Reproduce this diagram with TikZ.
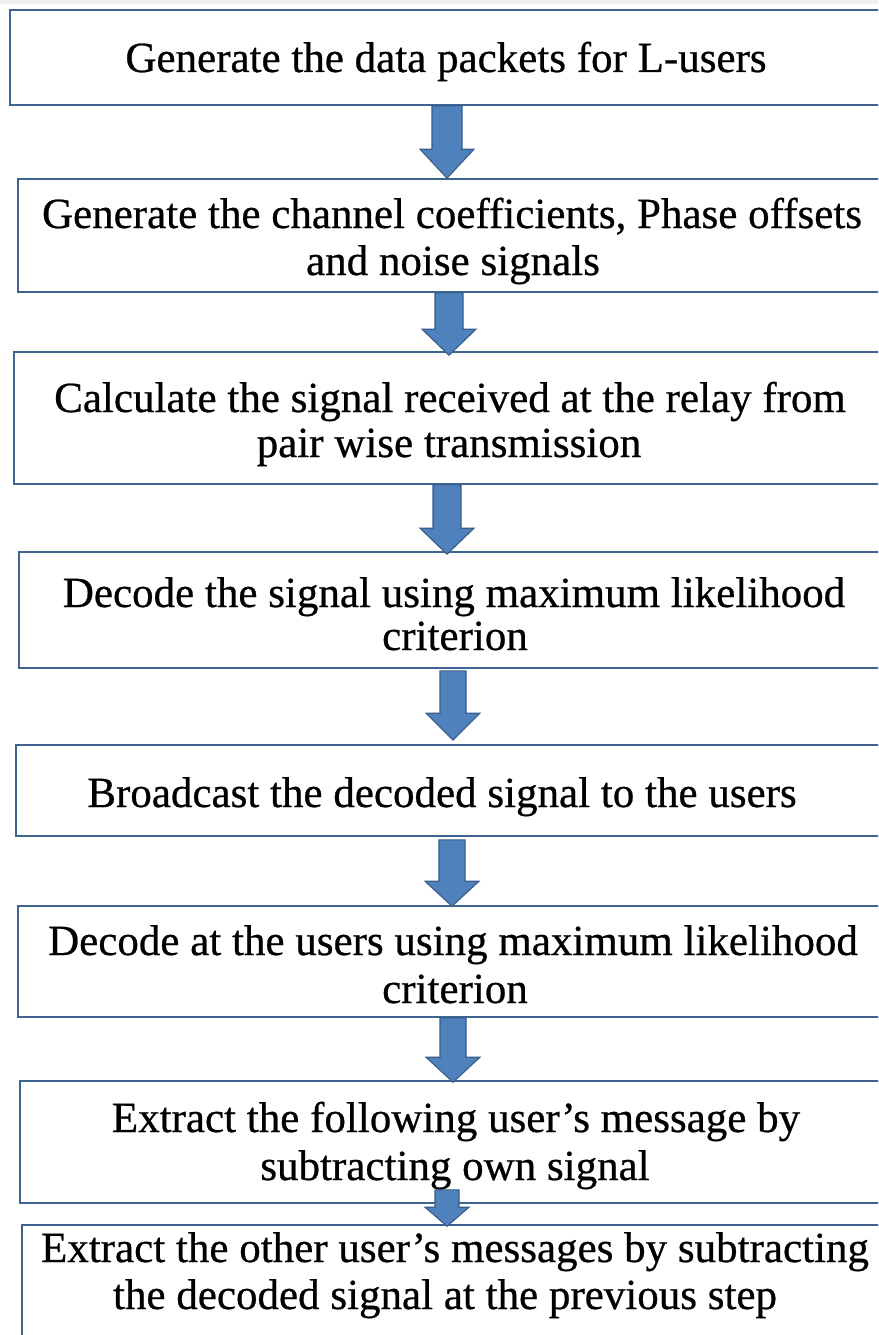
\documentclass[tikz,border=0pt]{standalone}
\usepackage{fontspec}
\setmainfont{Liberation Serif}
\newfontfamily\flowfont{Liberation Serif}[FakeBold=0.6]
\usetikzlibrary{calc}
\definecolor{boxline}{RGB}{62,100,145}
\definecolor{arrfill}{RGB}{79,129,189}
\definecolor{arrline}{RGB}{56,93,138}
\tikzset{
  stepbox/.style={draw=boxline, line width=1.6pt, fill=white, inner sep=0pt, rectangle},
  txt/.style={inner sep=0pt, anchor=base, font=\flowfont\fontsize{43}{50}\selectfont, text=black},
  blockarrow/.style={fill=arrfill, draw=arrline, line width=1.1pt, line join=miter}
}
% #1 from node, #2 to node, #3 x (pt), #4 shaft half, #5 head half, #6 head length, #7 start offset up, #8 tip overshoot down
\newcommand\flowarrow[8]{%
  \draw[blockarrow] let \p1=(#1.south), \p2=(#2.north) in
    (#3pt-#4pt,\y1+#7pt) -- (#3pt+#4pt,\y1+#7pt) -- (#3pt+#4pt,\y2-#8pt+#6pt)
    -- (#3pt+#5pt,\y2-#8pt+#6pt) -- (#3pt,\y2-#8pt) -- (#3pt-#5pt,\y2-#8pt+#6pt)
    -- (#3pt-#4pt,\y2-#8pt+#6pt) -- cycle;}
\begin{document}
\begin{tikzpicture}[x=1pt, y=-1pt]
\useasboundingbox (0,0) rectangle (878,1335);
\clip (0,0) rectangle (878,1335);
\fill[white] (0,0) rectangle (878,1335);
\fill[gray!12] (0,0) rectangle (878,4);
% boxes: left, top, bottom ; right edge 892
\node[stepbox, minimum width=882pt, minimum height=95pt]  (b1) at (451,57.5) {};
\node[stepbox, minimum width=874pt, minimum height=113pt] (b2) at (455,235.5) {};
\node[stepbox, minimum width=878pt, minimum height=132pt] (b3) at (453,418) {};
\node[stepbox, minimum width=873pt, minimum height=116pt] (b4) at (455.5,610) {};
\node[stepbox, minimum width=876pt, minimum height=91pt]  (b5) at (454,790.5) {};
\node[stepbox, minimum width=874pt, minimum height=111pt] (b6) at (455,961.5) {};
\node[stepbox, minimum width=872pt, minimum height=122pt] (b7) at (456,1142) {};
\node[stepbox, minimum width=870pt, minimum height=140pt] (b8) at (457,1295) {};
% arrows
\flowarrow{b1}{b2}{447}{15}{27}{29}{0}{0}
\flowarrow{b2}{b3}{449}{14}{27}{26}{0}{4}
\flowarrow{b3}{b4}{447}{14}{27}{26}{0}{3}
\flowarrow{b4}{b5}{453}{13}{27}{27}{-2}{-4}
\flowarrow{b5}{b6}{452}{13}{27}{25}{-3}{1}
\flowarrow{b6}{b7}{453}{13}{27}{25}{0}{2}
\flowarrow{b7}{b8}{447}{12}{22}{19}{14}{2}
% texts
\node[txt] (t1)  at (446,72)   {Generate the data packets for L-users};
\node[txt] (t2a) at (452,228)  {Generate the channel coefficients, Phase offsets};
\node[txt] (t2b) at (453,275)  {and noise signals};
\node[txt] (t3a) at (450,412)  {Calculate the signal received at the relay from};
\node[txt] (t3b) at (449,457)  {pair wise transmission};
\node[txt] (t4a) at (454,607)  {Decode the signal using maximum likelihood};
\node[txt] (t4b) at (455,650)  {criterion};
\node[txt] (t5)  at (442,807)  {Broadcast the decoded signal to the users};
\node[txt] (t6a) at (453,955)  {Decode at the users using maximum likelihood};
\node[txt] (t6b) at (455,1003) {criterion};
\node[txt] (t7a) at (456,1132) {Extract the following user’s message by};
\node[txt] (t7b) at (455,1180) {subtracting own signal};
\node[txt] (t8a) at (455,1262) {Extract the other user’s messages by subtracting};
\node[txt] (t8b) at (445,1309) {the decoded signal at the previous step};
\end{tikzpicture}
\end{document}
